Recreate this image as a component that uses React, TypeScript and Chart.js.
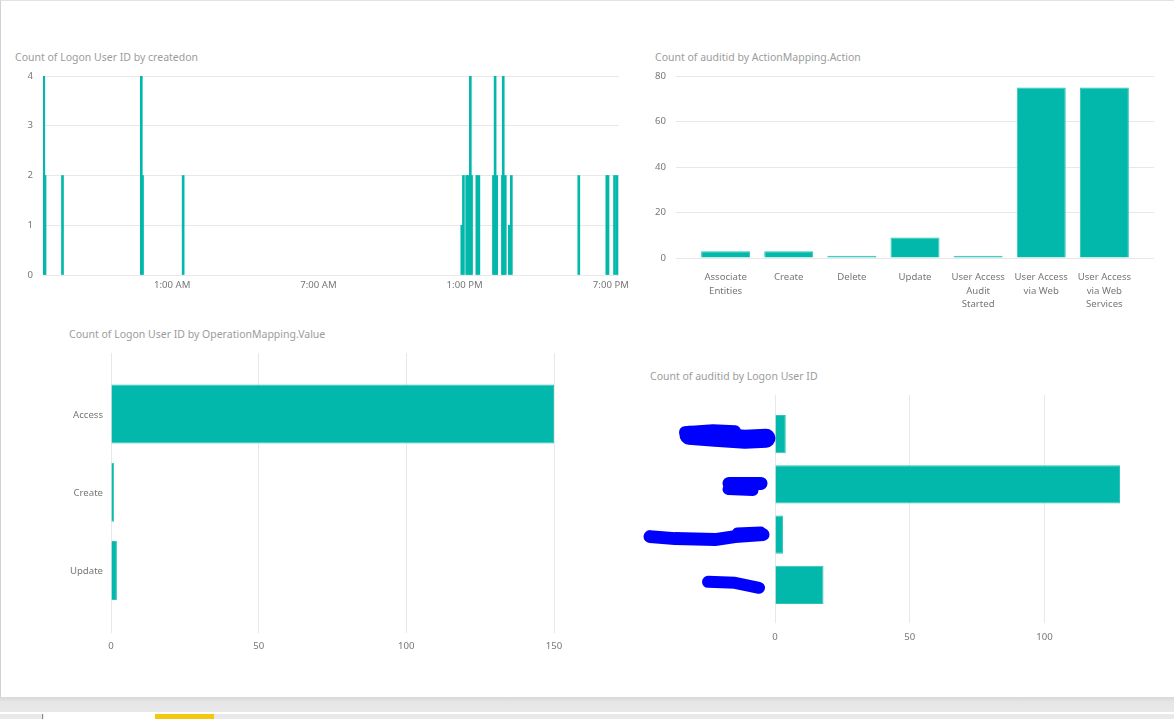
import { useEffect, useRef } from 'react';
import { Chart, registerables } from 'chart.js';

Chart.register(...registerables);

const FONT = "'Segoe UI', 'Noto Sans', 'Open Sans', sans-serif";
const BAR = '#01B8AA';
const BAR_EDGE = '#2ec3b8';
const GRID = '#e8e8e8';
const TICK = '#777777';
const TITLE = '#9c9c9c';
const TICK_SIZE = 9.6;
const MARKER = '#0000ff';

// Count of Logon User ID by createdon — stamps in order; the first five are on the previous evening
const createdonTimes = [
  '19:44', '19:47', '20:30', '23:44', '23:47', '01:27', '12:53', '12:57', '13:05',
  '13:09', '13:14', '13:17', '13:30', '13:35', '14:11', '14:15', '14:19', '14:33',
  '14:35', '14:40', '14:50', '14:55', '17:41', '18:50', '18:53', '19:09', '19:15',
];
const createdonCounts = [
  4, 2, 2, 4, 2, 2, 1, 2, 2,
  2, 4, 2, 2, 2, 2, 4, 2, 2,
  4, 2, 1, 2, 2, 2, 2, 2, 2,
];
const createdonWindow = ['19:42', '19:20'];
const createdonTickHours = [1, 7, 13, 19];
const createdonCountTicks = [0, 1, 2, 3, 4];

// Count of auditid by ActionMapping.Action
const actionNames = [
  'Associate Entities', 'Create', 'Delete', 'Update',
  'User Access Audit Started', 'User Access via Web', 'User Access via Web Services',
];
const actionCounts = [3, 3, 1, 9, 1, 75, 75];
const actionCountTicks = [0, 20, 40, 60, 80];

// Count of Logon User ID by OperationMapping.Value
const operationValues = ['Access', 'Create', 'Update'];
const operationCounts = [150, 1, 2];
const operationCountTicks = [0, 50, 100, 150];

// Count of auditid by Logon User ID (user names are blacked out with marker strokes)
const logonUserCounts = [4, 128, 3, 18];
const logonUserCountTicks = [0, 50, 100];

// Marker strokes over the user-name labels: offsets from the axis line / row centre
const markerStrokes = [
  [
    { w: 19, pts: [[-86, 1], [-60, 3], [-30, 5], [-9, 4]] },
    { w: 12, pts: [[-90, -2], [-62, -4], [-40, -3]] },
  ],
  [
    { w: 13, pts: [[-46, -1], [-14, -1]] },
    { w: 11, pts: [[-47, 5], [-22, 6]] },
  ],
  [
    { w: 13, pts: [[-125, 2], [-100, 4], [-60, 5], [-40, 2], [-12, 0]] },
    { w: 10, pts: [[-38, -2], [-14, -3]] },
  ],
  [
    { w: 12, pts: [[-67, -3], [-40, -2], [-16, 3]] },
  ],
];

function toHourOffsets(times: string[]): number[] {
  // hours relative to midnight of the later day; a drop in clock time means a new day
  let day = -1;
  let prev = -Infinity;
  return times.map((t) => {
    const [h, m] = t.split(':').map(Number);
    const v = h + m / 60;
    if (v < prev) day += 1;
    prev = v;
    return day * 24 + v;
  });
}

function clockLabel(hours: number): string {
  const h = ((Math.round(hours) % 24) + 24) % 24;
  const suffix = h < 12 ? 'AM' : 'PM';
  const h12 = h % 12 === 0 ? 12 : h % 12;
  return `${h12}:00 ${suffix}`;
}

function wrapWords(text: string, maxChars: number): string[] {
  const lines: string[] = [];
  let line = '';
  for (const word of text.split(' ')) {
    const next = line ? `${line} ${word}` : word;
    if (next.length > maxChars && line) {
      lines.push(line);
      line = word;
    } else {
      line = next;
    }
  }
  if (line) lines.push(line);
  return lines;
}

const fixAxis = (size: number) => (scale: any) => {
  if (scale.isHorizontal()) scale.height = size;
  else scale.width = size;
  scale.paddingTop = 0;
  scale.paddingBottom = 0;
  scale.paddingLeft = 0;
  scale.paddingRight = 0;
};

const setTicks = (values: number[]) => (scale: any) => {
  scale.ticks = values.map((value) => ({ value }));
};

const tickFont = { family: FONT, size: TICK_SIZE };

const baseOptions: any = {
  responsive: false,
  animation: false,
  events: [],
  plugins: {
    legend: { display: false },
    tooltip: { enabled: false },
    title: { display: false },
  },
};

function buildCreatedon(canvas: HTMLCanvasElement): Chart {
  const hours = toHourOffsets(createdonTimes);
  const [minH, maxH] = toHourOffsets(createdonWindow);
  return new Chart(canvas, {
    type: 'bar',
    data: {
      datasets: [
        {
          data: hours.map((h, i) => ({ x: h, y: createdonCounts[i] })),
          backgroundColor: BAR,
          borderWidth: 0,
          barThickness: 2,
        },
      ],
    },
    options: {
      ...baseOptions,
      layout: { padding: { top: 12, right: 21, bottom: 0, left: 0 } },
      scales: {
        x: {
          type: 'linear',
          min: minH,
          max: maxH,
          offset: false,
          grid: { display: false, drawTicks: false, offset: false },
          border: { display: false },
          afterBuildTicks: setTicks(createdonTickHours),
          afterFit: fixAxis(25),
          ticks: {
            font: tickFont,
            color: TICK,
            padding: 5,
            maxRotation: 0,
            autoSkip: false,
            callback: (v: any) => clockLabel(Number(v)),
          },
        },
        y: {
          type: 'linear',
          min: 0,
          max: 4,
          grid: { color: GRID, drawTicks: false },
          border: { display: false },
          afterBuildTicks: setTicks(createdonCountTicks),
          afterFit: fixAxis(43),
          ticks: { font: tickFont, color: TICK, padding: 10 },
        },
      },
    } as any,
  });
}

function buildActions(canvas: HTMLCanvasElement): Chart {
  return new Chart(canvas, {
    type: 'bar',
    data: {
      datasets: [
        {
          data: actionCounts.map((c, i) => ({ x: i, y: c })),
          backgroundColor: BAR,
          borderColor: BAR_EDGE,
          borderWidth: 1,
          categoryPercentage: 1,
          barPercentage: 0.776,
        },
      ],
    },
    options: {
      ...baseOptions,
      layout: { padding: { top: 12, right: 20, bottom: 0, left: 0 } },
      scales: {
        x: {
          type: 'linear',
          min: -0.786,
          max: actionNames.length - 1 + 0.786,
          offset: false,
          grid: { display: false, drawTicks: false, offset: false },
          border: { display: false },
          afterBuildTicks: setTicks(actionNames.map((_, i) => i)),
          afterFit: fixAxis(62),
          ticks: {
            font: { ...tickFont, lineHeight: '13.5px' },
            color: TICK,
            padding: 13,
            maxRotation: 0,
            autoSkip: false,
            callback: (v: any) => wrapWords(actionNames[Math.round(Number(v))] ?? '', 11),
          },
        },
        y: {
          type: 'linear',
          min: 0,
          max: 80,
          grid: { color: GRID, drawTicks: false },
          border: { display: false },
          afterBuildTicks: setTicks(actionCountTicks),
          afterFit: fixAxis(36),
          ticks: { font: tickFont, color: TICK, padding: 10 },
        },
      },
    } as any,
  });
}

function buildOperations(canvas: HTMLCanvasElement): Chart {
  return new Chart(canvas, {
    type: 'bar',
    data: {
      datasets: [
        {
          data: operationCounts.map((c, i) => ({ x: c, y: i })),
          backgroundColor: BAR,
          borderColor: BAR_EDGE,
          borderWidth: 1,
          categoryPercentage: 1,
          barPercentage: 0.754,
        },
      ],
    },
    options: {
      ...baseOptions,
      indexAxis: 'y',
      layout: { padding: { top: 8, right: 46, bottom: 0, left: 0 } },
      scales: {
        y: {
          type: 'linear',
          min: -0.78,
          max: operationValues.length - 1 + 0.8,
          reverse: true,
          offset: false,
          grid: { display: false, drawTicks: false, offset: false },
          border: { display: false },
          afterBuildTicks: setTicks(operationValues.map((_, i) => i)),
          afterFit: fixAxis(111),
          ticks: {
            font: tickFont,
            color: TICK,
            padding: 8,
            autoSkip: false,
            labelOffset: 1,
            callback: (v: any) => operationValues[Math.round(Number(v))] ?? '',
          },
        },
        x: {
          type: 'linear',
          min: 0,
          max: 150,
          grid: { color: GRID, drawTicks: false },
          border: { display: false },
          afterBuildTicks: setTicks(operationCountTicks),
          afterFit: fixAxis(27),
          ticks: { font: tickFont, color: TICK, padding: 8, maxRotation: 0 },
        },
      },
    } as any,
  });
}

const markerPlugin = {
  id: 'nameMarker',
  afterDraw(chart: any) {
    const { ctx, chartArea } = chart;
    const yScale = chart.scales.y;
    ctx.save();
    ctx.strokeStyle = MARKER;
    ctx.lineCap = 'round';
    ctx.lineJoin = 'round';
    markerStrokes.forEach((strokes, row) => {
      const cy = yScale.getPixelForValue(row);
      strokes.forEach((s) => {
        ctx.lineWidth = s.w;
        ctx.beginPath();
        s.pts.forEach(([dx, dy], k) => {
          const px = chartArea.left + dx;
          const py = cy + dy;
          if (k === 0) ctx.moveTo(px, py);
          else ctx.lineTo(px, py);
        });
        ctx.stroke();
      });
    });
    ctx.restore();
  },
};

function buildLogonUsers(canvas: HTMLCanvasElement): Chart {
  return new Chart(canvas, {
    type: 'bar',
    data: {
      datasets: [
        {
          data: logonUserCounts.map((c, i) => ({ x: c, y: i })),
          backgroundColor: BAR,
          borderColor: BAR_EDGE,
          borderWidth: 1,
          categoryPercentage: 1,
          barPercentage: 0.762,
        },
      ],
    },
    options: {
      ...baseOptions,
      indexAxis: 'y',
      layout: { padding: { top: 10, right: 54, bottom: 0, left: 0 } },
      scales: {
        y: {
          type: 'linear',
          min: -0.78,
          max: logonUserCounts.length - 1 + 0.76,
          reverse: true,
          offset: false,
          grid: { display: false, drawTicks: false, offset: false },
          border: { display: false },
          afterBuildTicks: setTicks(logonUserCounts.map((_, i) => i)),
          afterFit: fixAxis(175),
          ticks: { font: tickFont, color: TICK, padding: 8, autoSkip: false, callback: () => '' },
        },
        x: {
          type: 'linear',
          min: 0,
          max: 128,
          grid: { color: GRID, drawTicks: false },
          border: { display: false },
          afterBuildTicks: setTicks(logonUserCountTicks),
          afterFit: fixAxis(37),
          ticks: { font: tickFont, color: TICK, padding: 9, maxRotation: 0 },
        },
      },
    } as any,
    plugins: [markerPlugin],
  });
}

type Box = { x: number; y: number; w: number; h: number };

function ChartCanvas({ box, build }: { box: Box; build: (c: HTMLCanvasElement) => Chart }) {
  const ref = useRef<HTMLCanvasElement | null>(null);
  useEffect(() => {
    if (!ref.current) return undefined;
    const chart = build(ref.current);
    return () => chart.destroy();
  }, [build]);
  return (
    <canvas
      ref={ref}
      width={box.w}
      height={box.h}
      style={{ position: 'absolute', left: box.x, top: box.y, width: box.w, height: box.h }}
    />
  );
}

function Title({ x, y, text }: { x: number; y: number; text: string }) {
  return (
    <div
      style={{
        position: 'absolute',
        left: x,
        top: y,
        fontFamily: FONT,
        fontSize: 10.5,
        lineHeight: '14px',
        color: TITLE,
        whiteSpace: 'nowrap',
      }}
    >
      {text}
    </div>
  );
}

export default function App() {
  return (
    <div
      style={{
        position: 'fixed',
        left: 0,
        top: 0,
        width: 1174,
        height: 719,
        background: '#ffffff',
        overflow: 'hidden',
      }}
    >
      <div
        style={{
          position: 'absolute',
          left: 0,
          top: 0,
          width: 1174,
          height: 697,
          boxSizing: 'border-box',
          borderLeft: '1px solid #d2d2d2',
          borderTop: '1px solid #e2e2e2',
          background: '#ffffff',
        }}
      />
      <Title x={15} y={50} text="Count of Logon User ID by createdon" />
      <Title x={655} y={50} text="Count of auditid by ActionMapping.Action" />
      <Title x={69} y={327} text="Count of Logon User ID by OperationMapping.Value" />
      <Title x={650} y={369} text="Count of auditid by Logon User ID" />
      <ChartCanvas box={{ x: 0, y: 64, w: 640, h: 236 }} build={buildCreatedon} />
      <ChartCanvas box={{ x: 640, y: 64, w: 534, h: 256 }} build={buildActions} />
      <ChartCanvas box={{ x: 0, y: 345, w: 600, h: 315 }} build={buildOperations} />
      <ChartCanvas box={{ x: 600, y: 385, w: 574, h: 275 }} build={buildLogonUsers} />
      <div
        style={{
          position: 'absolute',
          left: 0,
          top: 697,
          width: 1174,
          height: 15,
          background: 'linear-gradient(#d8d8d8, #e6e6e6 5px, #e8e8e8)',
        }}
      />
      <div style={{ position: 'absolute', left: 0, top: 714, width: 1174, height: 5, background: '#e9e9e9' }} />
      <div style={{ position: 'absolute', left: 42, top: 714, width: 1, height: 5, background: '#8a8a8a' }} />
      <div style={{ position: 'absolute', left: 44, top: 714, width: 111, height: 5, background: '#ffffff' }} />
      <div style={{ position: 'absolute', left: 155, top: 714, width: 59, height: 5, background: '#f2c811' }} />
    </div>
  );
}
